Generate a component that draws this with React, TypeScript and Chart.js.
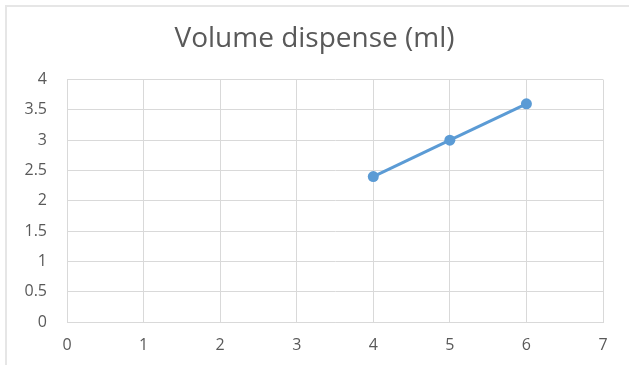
import React, { useEffect, useRef } from "react";
import { Chart, registerables } from "chart.js";

Chart.register(...registerables);

const title = "Volume dispense (ml)";
const xValues = [4, 5, 6];
const yValues = [2.4, 3.0, 3.6];
const xMin = 0;
const xMax = 7;
const yMin = 0;
const yMax = 4;
const yStep = 0.5;

export default function App() {
  const ref = useRef<HTMLCanvasElement | null>(null);

  useEffect(() => {
    document.body.style.margin = "0";
    const ctx = ref.current;
    if (!ctx) return;
    const font = "'Open Sans', 'Liberation Sans', sans-serif";
    const chart = new Chart(ctx, {
      type: "line",
      data: {
        datasets: [
          {
            label: title,
            data: xValues.map((x, i) => ({ x, y: yValues[i] })),
            borderColor: "#5B9BD5",
            backgroundColor: "#5B9BD5",
            borderWidth: 3,
            pointRadius: 5.5,
            pointBorderWidth: 0,
            pointBackgroundColor: "#5B9BD5",
            tension: 0,
            xAxisID: "x",
            yAxisID: "y",
          },
        ],
      },
      options: {
        responsive: false,
        animation: false,
        layout: { padding: { left: 0, right: 0, top: 0, bottom: 0 } },
        plugins: {
          legend: { display: false },
          tooltip: { enabled: false },
          title: {
            display: true,
            text: title,
            color: "#595959",
            font: { family: font, size: 28, weight: "normal" },
            padding: { top: 22, bottom: 24 },
          },
        },
        scales: {
          x: {
            type: "linear",
            min: xMin,
            max: xMax,
            ticks: {
              stepSize: 1,
              color: "#595959",
              font: { family: font, size: 16 },
              padding: 14,
            },
            grid: { color: "#d9d9d9", lineWidth: 1, drawTicks: false },
            border: { color: "#d9d9d9" },
            afterFit: (s: any) => {
              s.height = 43;
            },
          },
          y: {
            type: "linear",
            min: yMin,
            max: yMax,
            ticks: {
              stepSize: yStep,
              color: "#595959",
              font: { family: font, size: 16 },
              padding: 20,
              callback: (v: any) => String(v),
            },
            grid: { color: "#d9d9d9", lineWidth: 1, drawTicks: false },
            border: { color: "#d9d9d9" },
            afterFit: (s: any) => {
              s.width = 67;
            },
          },
          yRight: {
            type: "linear",
            position: "right",
            display: true,
            ticks: { display: false },
            grid: { display: false, drawTicks: false },
            border: { display: false },
            afterFit: (s: any) => {
              s.width = 26;
            },
          },
        },
      },
    });
    return () => chart.destroy();
  }, []);

  return (
    <div style={{ position: "absolute", left: 0, top: 0, width: 629, height: 365, background: "#fff" }}>
      <div
        style={{
          position: "absolute",
          left: 5,
          top: 5,
          width: 624,
          height: 360,
          borderLeft: "2px solid #e6e6e6",
          borderTop: "2px solid #e6e6e6",
          boxSizing: "border-box",
        }}
      />
      <canvas ref={ref} width={629} height={365} style={{ position: "absolute", left: 0, top: 0 }} />
    </div>
  );
}
